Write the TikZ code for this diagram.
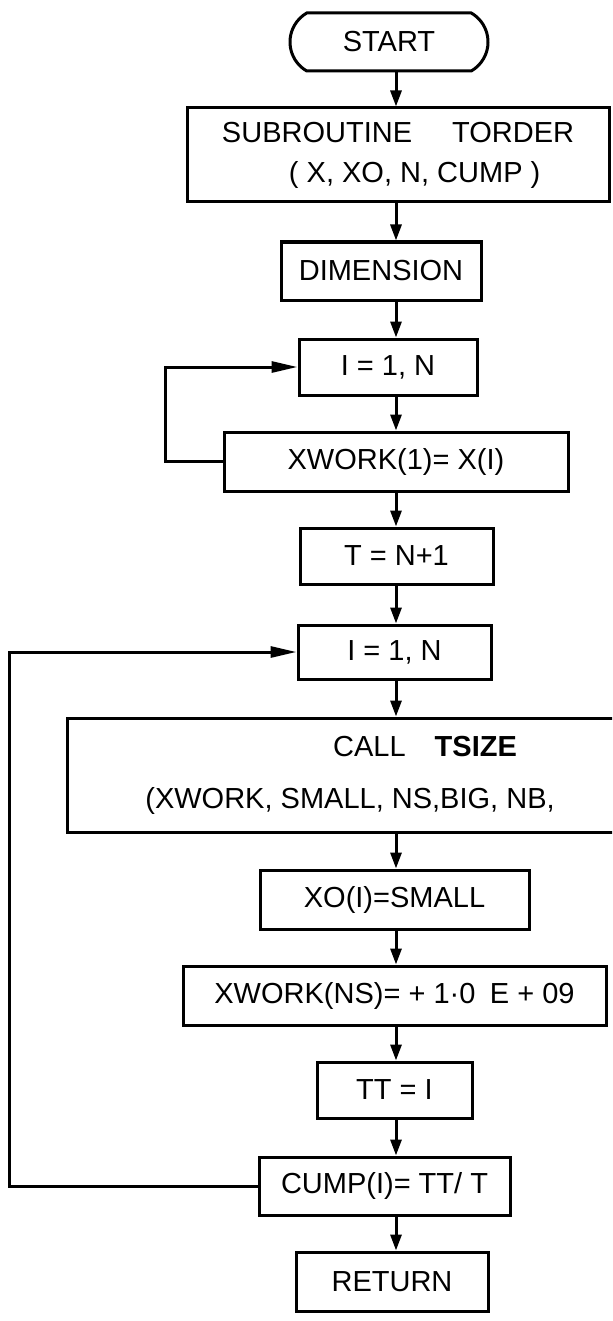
\documentclass[tikz,border=0pt]{standalone}
\usepackage{fontspec}
\setmainfont{Liberation Sans}
\usetikzlibrary{positioning, calc, arrows.meta, shapes.misc}
\tikzset{box/.style={draw, rectangle, line width=1.5pt, inner sep=2pt, font=\fontsize{14.5}{20}\selectfont}}
\tikzset{terminal/.style={box, rounded rectangle, rounded rectangle arc length=120}}
\tikzset{flow/.style={line width=1.5pt, -{Triangle[length=8pt, width=5.5pt]}}}
\tikzset{loopback/.style={line width=1.5pt, line join=miter, -{Triangle[length=13pt, width=5.5pt]}}}

\begin{document}
\begin{tikzpicture}[x=0.5pt, y=-0.5pt]
      \clip (0,0) rectangle (612,1321);
      \coordinate (spine) at (396,0);
      \coordinate (innerleft) at (165,0);
      \coordinate (outerleft) at (9,0);

      \node[terminal, minimum width=103pt, minimum height=29pt] (start) at (389,42) {START};

      \node[box, minimum width=211pt, minimum height=47pt, align=left] (sub) at (398,155)
        {SUBROUTINE\hspace{20pt}TORDER\\\hspace*{33.5pt}( X, XO, N, CUMP )};

      \node[box, minimum width=100pt, minimum height=29pt] (dim) at (381,271) {DIMENSION};

      \node[box, minimum width=89pt, minimum height=28pt] (i1) at (388,367) {I = 1, N};

      \node[box, minimum width=172pt, minimum height=29.5pt] (xw1) at (396,461.5) {XWORK(1)= X(I)};

      \node[box, minimum width=96.5pt, minimum height=28pt] (t) at (396.5,556) {T = N+1};

      \node[box, minimum width=96.5pt, minimum height=27pt] (i2) at (394.5,652) {I = 1, N};

      % box runs off the right edge of the sheet
      \node[box, minimum width=283pt, minimum height=57pt, align=center] (call) at (350,775)
        {\hspace*{75pt}CALL\hspace{1em}\textbf{TSIZE}\\[6pt](XWORK, SMALL, NS,BIG, NB,};

      \node[box, minimum width=134.5pt, minimum height=29.5pt] (xo) at (394.5,899.5) {XO(I)=SMALL};

      \node[box, minimum width=211.5pt, minimum height=29.5pt] (xwns) at (394.5,995.5)
        {XWORK(NS)= + 1·0\enspace E + 09};

      \node[box, minimum width=77.5pt, minimum height=28pt] (tt) at (394.5,1090) {TT = I};

      \node[box, minimum width=125.5pt, minimum height=29pt] (cump) at (384.5,1186) {CUMP(I)= TT/ T};

      \node[box, minimum width=96pt, minimum height=29.5pt] (ret) at (392,1281.5) {RETURN};

      % main line down the middle
      \draw[flow] (start.south -| spine) -- (sub.north -| spine);
      \draw[flow] (sub.south -| spine) -- (dim.north -| spine);
      \draw[flow] (dim.south -| spine) -- (i1.north -| spine);
      \draw[flow] (i1.south -| spine) -- (xw1.north -| spine);
      \draw[flow] (xw1.south -| spine) -- (t.north -| spine);
      \draw[flow] (t.south -| spine) -- (i2.north -| spine);
      \draw[flow] (i2.south -| spine) -- (call.north -| spine);
      \draw[flow] (call.south -| spine) -- (xo.north -| spine);
      \draw[flow] (xo.south -| spine) -- (xwns.north -| spine);
      \draw[flow] (xwns.south -| spine) -- (tt.north -| spine);
      \draw[flow] (tt.south -| spine) -- (cump.north -| spine);
      \draw[flow] (cump.south -| spine) -- (ret.north -| spine);

      % the two DO loops
      \draw[loopback] (xw1.west) -- (xw1.west -| innerleft) |- (i1.west);
      \draw[loopback] (cump.west) -- (cump.west -| outerleft) |- (i2.west);
\end{tikzpicture}
\end{document}
